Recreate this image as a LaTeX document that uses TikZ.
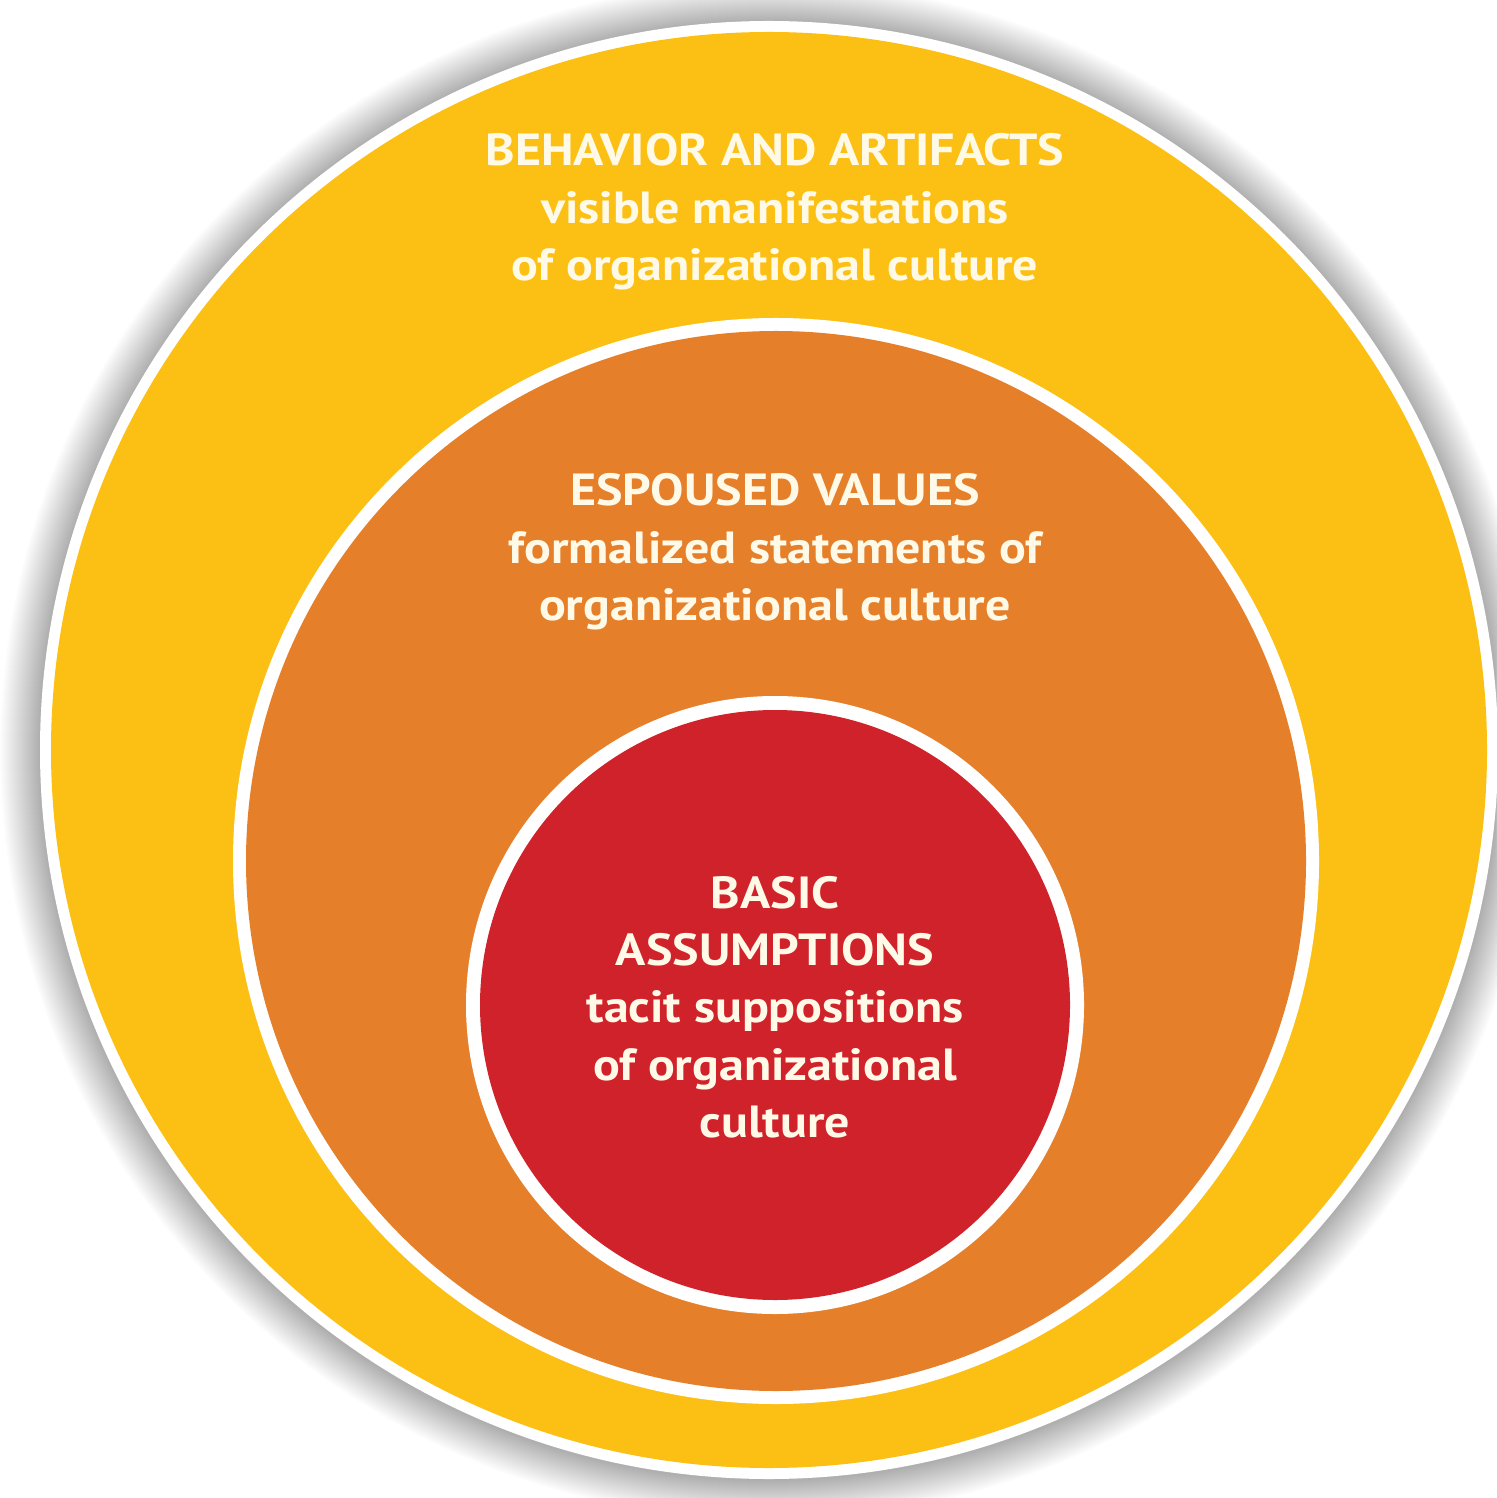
\documentclass[tikz,border=0pt]{standalone}
\usepackage{fontspec}
\setmainfont[FakeStretch=1.11]{PT Sans}
\definecolor{ringyellow}{RGB}{252,192,20}
\definecolor{ringorange}{RGB}{229,127,42}
\definecolor{ringred}{RGB}{208,34,42}
\definecolor{labeltext}{RGB}{255,250,232}
\begin{document}
\begin{tikzpicture}[x=0.01cm,y=-0.01cm,
  ringlabel/.style={text=labeltext,align=center,inner sep=0pt,
    font=\bfseries\fontsize{12.8}{16.3}\selectfont}]
\useasboundingbox (0,0) rectangle (1496,1498);
\fill[white] (0,0) rectangle (1496,1498);
% soft shadow around the outer disc
\foreach \d in {40,39,...,1}{
  \fill[black,opacity=0.008] (769,751) circle (729+\d);
}
% outer disc
\fill[white] (769,750) circle (729);
\fill[ringyellow] (769,750) circle (718);
% middle disc
\fill[white] (776,861) circle (543);
\fill[ringorange] (776,861) circle (530);
% inner disc
\fill[white] (775,1005) circle (309);
\fill[ringred] (775,1005) circle (295);
% labels
\node[ringlabel] (outer) at (775,212) {BEHAVIOR AND ARTIFACTS\\visible manifestations\\of organizational culture};
\node[ringlabel] (middle) at (775,552) {ESPOUSED VALUES\\formalized statements of\\organizational culture};
\node[ringlabel] (inner) at (775,1007) {BASIC\\ASSUMPTIONS\\tacit suppositions\\of organizational\\culture};
\end{tikzpicture}
\end{document}
